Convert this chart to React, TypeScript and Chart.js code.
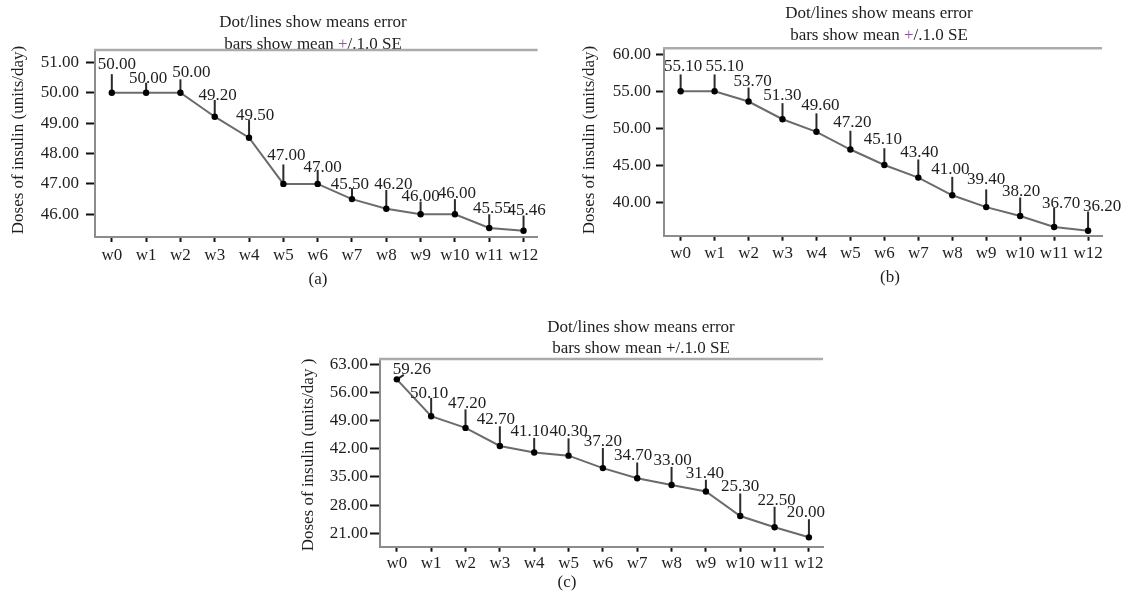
import React, { useEffect, useRef } from 'react';
import { Chart, registerables } from 'chart.js';

Chart.register(...registerables);

// ---------- data ----------
const weeks = ['w0', 'w1', 'w2', 'w3', 'w4', 'w5', 'w6', 'w7', 'w8', 'w9', 'w10', 'w11', 'w12'];

const meansA = [50.0, 50.0, 50.0, 49.21, 48.52, 47.0, 47.0, 46.5, 46.18, 46.0, 46.0, 45.55, 45.46];
const errA = [0.61, 0.33, 0.44, 0.55, 0.58, 0.64, 0.46, 0.36, 0.62, 0.42, 0.5, 0.45, 0.5];
const labelsA = ['50.00', '50.00', '50.00', '49.20', '49.50', '47.00', '47.00', '45.50', '46.20', '46.00', '46.00', '45.55', '45.46'];
const ticksA = [46, 47, 48, 49, 50, 51];

const meansB = [55.1, 55.1, 53.7, 51.3, 49.6, 47.2, 45.1, 43.4, 41.0, 39.4, 38.2, 36.7, 36.2];
const errB = [2.27, 2.27, 1.9, 2.18, 2.5, 2.54, 2.27, 2.45, 2.5, 2.4, 2.5, 2.6, 2.6];
const labelsB = ['55.10', '55.10', '53.70', '51.30', '49.60', '47.20', '45.10', '43.40', '41.00', '39.40', '38.20', '36.70', '36.20'];
const ticksB = [40, 45, 50, 55, 60];

const meansC = [59.26, 50.1, 47.2, 42.7, 41.1, 40.3, 37.2, 34.7, 33.0, 31.4, 25.3, 22.5, 20.0];
const errC = [0, 4.55, 4.6, 4.9, 3.6, 4.3, 5.0, 3.9, 4.5, 2.9, 5.6, 5.1, 4.5];
const labelsC = ['59.26', '50.10', '47.20', '42.70', '41.10', '40.30', '37.20', '34.70', '33.00', '31.40', '25.30', '22.50', '20.00'];
const ticksC = [21, 28, 35, 42, 49, 56, 63];

const titleLine1 = 'Dot/lines show means error';
const titleLine2 = ['bars show mean ', '+', '/.1.0 SE'];
const yTitleAB = 'Doses of insulin (units/day)';
const yTitleC = 'Doses of insulin (units/day )';

// ---------- layout / style ----------
const W = 1128;
const H = 595;
const FONT = '"Liberation Serif", "Times New Roman", serif';
const TEXT = '#1e1e1e';
const Y_W = 70;
const X_H = 40;

const dxA = [5, 2, 11, 3, 6, 3, 5, -2, 7, 0, 2, 3, 3];
const dyA = [-5.5, 0, -2.5, 0, 0, -4, 2.5, 1, -1, -1, -1, -1, -1];
const dxB = [2.5, 10, 4, 0, 4, 2, -1.5, 1, -2, 0, 1, 7, 14];
const dyB = [-3.3, -3.3, -1, -3.3, -3.3, -3.3, -4, -2, -3.3, -5, -1.7, 0, -1];
const dxC = [15, -2, 1.5, -4, -4.5, 0, 0, -4, 1, -1, 0, 2, -3];
const dyC = [-5.5, 0, -1.3, -2.3, -2, -2, -2, -2, -2, -2, -2, -2, -2];

type Spec = {
  means: number[]; errs: number[]; labels: string[]; ticks: number[];
  dx: number[]; dy: number[]; leader: number;
  L: number; R: number; T: number; B: number;
  yMin: number; yMax: number; yTick: number; yPad: number; xPad: number;
  titleX: number; titleY1: number; titleY2: number; plusColor: string;
  yTitle: string; yTitleX: number; yTitleY: number;
  sub: string; subX: number; subY: number;
};

const specA: Spec = {
  means: meansA, errs: errA, labels: labelsA, ticks: ticksA, dx: dxA, dy: dyA, leader: -1,
  L: 95, R: 537.6, T: 50, B: 237, yMin: 45.253, yMax: 51.405, yTick: 9, yPad: 7, xPad: 3,
  titleX: 313, titleY1: 26.5, titleY2: 49, plusColor: '#8d559f',
  yTitle: yTitleAB, yTitleX: 19, yTitleY: 140, sub: '(a)', subX: 318, subY: 280,
};
const specB: Spec = {
  means: meansB, errs: errB, labels: labelsB, ticks: ticksB, dx: dxB, dy: dyB, leader: -1,
  L: 664, R: 1102, T: 48.3, B: 235.7, yMin: 35.53, yMax: 60.907, yTick: 8, yPad: 5, xPad: 3,
  titleX: 879, titleY1: 18.3, titleY2: 40, plusColor: '#8d559f',
  yTitle: yTitleAB, yTitleX: 590, yTitleY: 140, sub: '(b)', subX: 890, subY: 278,
};
const specC: Spec = {
  means: meansC, errs: errC, labels: labelsC, ticks: ticksC, dx: dxC, dy: dyC, leader: 0,
  L: 380, R: 823, T: 359, B: 546.7, yMin: 17.67, yMax: 64.32, yTick: 10, yPad: 2, xPad: 2,
  titleX: 641, titleY1: 331.5, titleY2: 353, plusColor: TEXT,
  yTitle: yTitleC, yTitleX: 309, yTitleY: 455, sub: '(c)', subX: 567, subY: 583,
};

const figurePlugin = {
  id: 'figure',
  beforeDatasetsDraw(chart: any, _args: any, o: any) {
    const { ctx, scales } = chart;
    const x = scales.x;
    const y = scales.y;
    const s: Spec = o.spec;
    ctx.save();
    ctx.strokeStyle = '#2b2b2b';
    ctx.lineWidth = 2;
    s.means.forEach((m, i) => {
      const px = x.getPixelForValue(i);
      const py = y.getPixelForValue(m);
      if (i === s.leader) {
        ctx.beginPath();
        ctx.moveTo(px, py);
        ctx.lineTo(px + 7, py - 4.5);
        ctx.stroke();
      }
      const e = s.errs[i];
      if (!e) return;
      ctx.beginPath();
      ctx.moveTo(px, py);
      ctx.lineTo(px, y.getPixelForValue(m + e));
      ctx.stroke();
    });
    ctx.restore();
  },
  afterDraw(chart: any, _args: any, o: any) {
    const { ctx, chartArea: ca, scales } = chart;
    const x = scales.x;
    const y = scales.y;
    const s: Spec = o.spec;
    ctx.save();
    ctx.font = `17px ${FONT}`;
    ctx.fillStyle = TEXT;

    // value labels
    ctx.textAlign = 'center';
    ctx.textBaseline = 'alphabetic';
    s.labels.forEach((t, i) => {
      const px = x.getPixelForValue(i) + s.dx[i];
      const py = y.getPixelForValue(s.means[i] + s.errs[i]) + s.dy[i];
      ctx.fillText(t, px, py);
    });

    // title
    ctx.fillText(titleLine1, s.titleX, s.titleY1);
    const widths = titleLine2.map((t) => ctx.measureText(t).width);
    const total = widths.reduce((a, b) => a + b, 0);
    let cx = s.titleX - total / 2;
    ctx.textAlign = 'left';
    titleLine2.forEach((t, i) => {
      ctx.fillStyle = i === 1 ? s.plusColor : TEXT;
      ctx.fillText(t, cx, s.titleY2);
      cx += widths[i];
    });
    ctx.fillStyle = TEXT;

    // top frame line
    ctx.strokeStyle = '#ababab';
    ctx.lineWidth = 2.5;
    ctx.beginPath();
    ctx.moveTo(ca.left - 1, ca.top);
    ctx.lineTo(ca.right, ca.top);
    ctx.stroke();

    // y title
    ctx.save();
    ctx.translate(s.yTitleX, s.yTitleY);
    ctx.rotate(-Math.PI / 2);
    ctx.textAlign = 'center';
    ctx.textBaseline = 'middle';
    ctx.fillText(s.yTitle, 0, 0);
    ctx.restore();

    // sub label
    ctx.textAlign = 'center';
    ctx.textBaseline = 'middle';
    ctx.fillText(s.sub, s.subX, s.subY);
    ctx.restore();
  },
};

function makeConfig(s: Spec): any {
  const font = { family: FONT, size: 17 };
  return {
    type: 'line',
    data: {
      datasets: [
        {
          data: s.means.map((v, i) => ({ x: i, y: v })),
          borderColor: '#6b6b6b',
          borderWidth: 2,
          pointRadius: 3.2,
          pointBackgroundColor: '#000',
          pointBorderWidth: 0,
          tension: 0,
        },
      ],
    },
    options: {
      animation: false,
      responsive: false,
      maintainAspectRatio: false,
      events: [],
      layout: {
        padding: { left: s.L - Y_W, top: s.T, right: W - s.R, bottom: H - s.B - X_H },
      },
      plugins: {
        legend: { display: false },
        tooltip: { enabled: false },
        title: { display: false },
        figure: { spec: s },
      },
      scales: {
        x: {
          type: 'linear',
          min: -0.49,
          max: 12.41,
          afterBuildTicks: (sc: any) => {
            sc.ticks = weeks.map((_, i) => ({ value: i }));
          },
          afterFit: (sc: any) => {
            sc.height = X_H;
          },
          ticks: {
            callback: (v: number) => weeks[v],
            font,
            color: TEXT,
            padding: s.xPad,
            maxRotation: 0,
            autoSkip: false,
          },
          grid: { drawOnChartArea: false, drawTicks: true, tickLength: 5, tickWidth: 2, tickColor: '#111' },
          border: { display: true, color: '#8c8c8c', width: 2 },
        },
        y: {
          type: 'linear',
          min: s.yMin,
          max: s.yMax,
          afterBuildTicks: (sc: any) => {
            sc.ticks = s.ticks.map((v) => ({ value: v }));
          },
          afterFit: (sc: any) => {
            sc.width = Y_W;
          },
          ticks: {
            callback: (v: number) => Number(v).toFixed(2),
            font,
            color: TEXT,
            padding: s.yPad,
          },
          grid: { drawOnChartArea: false, drawTicks: true, tickLength: s.yTick, tickWidth: 2, tickColor: '#111' },
          border: { display: true, color: '#8c8c8c', width: 2 },
        },
      },
    },
    plugins: [figurePlugin],
  };
}

export default function App() {
  const refA = useRef<HTMLCanvasElement>(null);
  const refB = useRef<HTMLCanvasElement>(null);
  const refC = useRef<HTMLCanvasElement>(null);

  useEffect(() => {
    const charts = [
      new Chart(refA.current as HTMLCanvasElement, makeConfig(specA)),
      new Chart(refB.current as HTMLCanvasElement, makeConfig(specB)),
      new Chart(refC.current as HTMLCanvasElement, makeConfig(specC)),
    ];
    return () => charts.forEach((c) => c.destroy());
  }, []);

  const cs: React.CSSProperties = { position: 'absolute', left: 0, top: 0, width: W, height: H };
  return (
    <div style={{ position: 'absolute', left: 0, top: 0, width: W, height: H, background: '#fff' }}>
      <canvas ref={refA} width={W} height={H} style={cs} />
      <canvas ref={refB} width={W} height={H} style={cs} />
      <canvas ref={refC} width={W} height={H} style={cs} />
    </div>
  );
}
